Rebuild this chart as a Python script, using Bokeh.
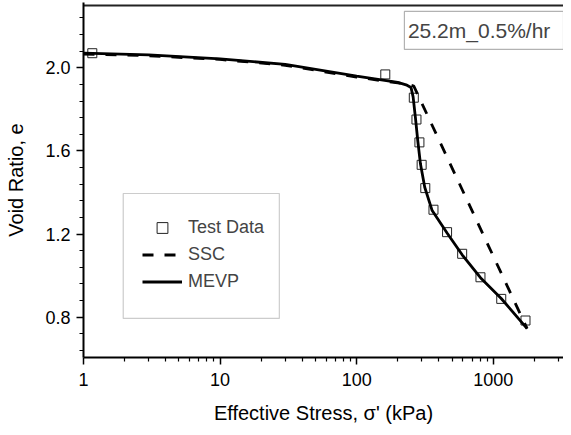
import numpy as np
from bokeh.plotting import figure
from bokeh.models import Range1d, FixedTicker, Legend, LegendItem, Label, BoxAnnotation
from bokeh.embed import file_html
from bokeh.resources import INLINE

# ---- data ----
test_stress = [1.16, 162, 262, 274, 288, 299, 318, 365, 459, 592, 806, 1144, 1722]
test_e = [2.07, 1.968, 1.856, 1.751, 1.641, 1.533, 1.421, 1.317, 1.209, 1.105, 0.992, 0.888, 0.784]

ssc_stress = [1, 3, 10, 30, 100, 200, 240, 262, 1770]
ssc_e = [2.066, 2.058, 2.040, 2.012, 1.955, 1.927, 1.92, 1.912, 0.745]

mevp_stress = [1, 3, 10, 30, 100, 200, 230, 250, 259, 269, 280, 293, 315, 357, 459, 592, 806, 1144, 1770]
mevp_e = [2.07, 2.062, 2.043, 2.016, 1.96, 1.93, 1.918, 1.905, 1.86, 1.762, 1.65, 1.538, 1.425,
          1.313, 1.205, 1.10, 0.99, 0.89, 0.745]

x_ticks = [1, 10, 100, 1000]
x_tick_labels = ["1", "10", "100", "1000"]
y_ticks = [0.8, 1.2, 1.6, 2.0]
y_tick_labels = ["0.8", "1.2", "1.6", "2.0"]

annotation_text = "25.2m_0.5%/hr"

FONT = "Liberation Sans"

X_END = 3268
Y_START, Y_END = 0.606, 2.314
TOP_LINE = 2.2985

p = figure(width=563, height=427, x_axis_type="log",
           x_range=Range1d(1, X_END), y_range=Range1d(Y_START, Y_END),
           output_backend="svg", toolbar_location=None,
           min_border_left=83, min_border_right=0, min_border_top=2, min_border_bottom=70)
p.background_fill_color = "white"
p.border_fill_color = "white"
p.outline_line_color = None
p.xgrid.visible = False
p.ygrid.visible = False

# ticks
x_minor = [m * 10 ** d for d in range(0, 4) for m in range(2, 10) if m * 10 ** d < X_END]
p.xaxis.ticker = FixedTicker(ticks=x_ticks, minor_ticks=x_minor)
p.xaxis.major_label_overrides = {t: l for t, l in zip(x_ticks, x_tick_labels)}
y_minor = [round(v, 2) for v in np.arange(0.64, 2.29, 0.08)]
p.yaxis.ticker = FixedTicker(ticks=y_ticks, minor_ticks=y_minor)
p.yaxis.major_label_overrides = {t: l for t, l in zip(y_ticks, y_tick_labels)}

for ax in (p.xaxis, p.yaxis):
    ax.axis_line_width = 2
    ax.axis_line_color = "black"
    ax.major_tick_line_width = 1.5
    ax.minor_tick_line_width = 1.2
    ax.major_tick_line_color = "black"
    ax.minor_tick_line_color = "black"
    ax.major_tick_in = 0
    ax.minor_tick_in = 0
    ax.major_tick_out = 7
    ax.minor_tick_out = 4
    ax.major_label_text_font = FONT
    ax.major_label_text_font_size = "18px"
    ax.major_label_text_color = "black"
    ax.axis_label_text_font = FONT
    ax.axis_label_text_font_size = "20px"
    ax.axis_label_text_font_style = "normal"
    ax.axis_label_text_color = "black"

p.xaxis.axis_label = "Effective Stress, σ' (kPa)"
p.yaxis.axis_label = "Void Ratio, e"
p.xaxis.major_label_standoff = 8
p.xaxis.axis_label_standoff = 13
p.yaxis.major_label_standoff = 6
p.yaxis.axis_label_standoff = 15

# top frame line (drawn a few pixels inside the frame so it is not clipped)
p.hspan(y=[TOP_LINE], line_color="#222222", line_width=2)

# data
r_test = p.scatter(test_stress, test_e, marker="square", size=9, fill_color=None,
                   line_color="#222222", line_width=1)
r_ssc = p.line(ssc_stress, ssc_e, line_color="black", line_width=2.8, line_dash="11 11")
r_mevp = p.line(mevp_stress, mevp_e, line_color="black", line_width=2.8)

# legend frame
p.add_layout(BoxAnnotation(left=1.954, right=27.15, bottom=0.794, top=1.395,
                           fill_color="white", fill_alpha=1,
                           line_color="#555555", line_width=1.2))
legend = Legend(items=[LegendItem(label="Test Data", renderers=[r_test]),
                       LegendItem(label="SSC", renderers=[r_ssc]),
                       LegendItem(label="MEVP", renderers=[r_mevp])],
                location=(59, 62), padding=0, spacing=0, margin=0,
                glyph_width=40, glyph_height=27, label_height=27, label_standoff=6,
                label_text_font=FONT, label_text_font_size="18px",
                border_line_color=None, background_fill_alpha=0)
p.add_layout(legend, "center")

# annotation box + text
p.add_layout(BoxAnnotation(left=223.6, right=3268, bottom=2.088, top=2.271,
                           fill_color="white", fill_alpha=1,
                           line_color="black", line_width=1.2))
p.add_layout(Label(x=237.3, y=2.1795, text=annotation_text, text_align="left",
                   text_baseline="middle", text_font=FONT, text_font_size="21px"))

open("out.html", "w").write(file_html(p, INLINE))
